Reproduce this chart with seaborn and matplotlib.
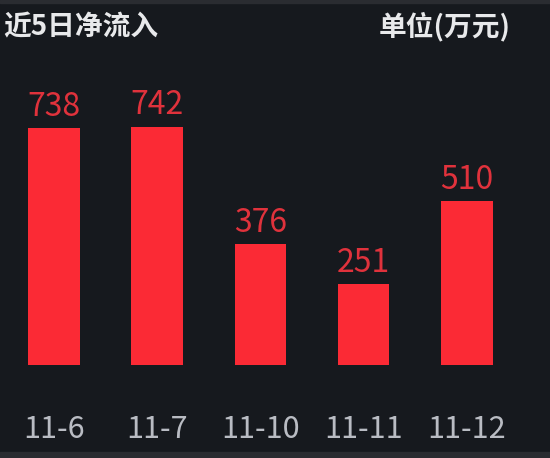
import matplotlib
matplotlib.use("Agg")
import matplotlib.pyplot as plt
import seaborn as sns
import pandas as pd
from matplotlib.patches import Rectangle

dates = ["11-6", "11-7", "11-10", "11-11", "11-12"]
values = [738, 742, 376, 251, 510]
title_left = "近5日净流入"
title_right = "单位(万元)"

BG = "#16191e"
BAR = "#fb2a35"
LABEL = "#e0323c"
TICK = "#b9bcc3"

sns.set_theme(style="dark")
plt.rcParams["font.family"] = ["Noto Sans CJK SC", "DejaVu Sans"]

df = pd.DataFrame({"date": dates, "value": values})

fig = plt.figure(figsize=(5.5, 4.58), dpi=100, facecolor=BG)
W, H = 550, 458
ax = fig.add_axes([2.4 / W, 1 - 365 / H, 516 / W, 305 / H])
ax.set_facecolor(BG)

sns.barplot(data=df, x="date", y="value", color=BAR, width=0.5, saturation=1,
            edgecolor="none", linewidth=0, ax=ax)
for cont in ax.containers:
    ax.bar_label(cont, padding=4, color=LABEL, fontsize=23)

ax.set_ylim(0, 950)
ax.set_xlim(-0.5, 4.5)
ax.set_xlabel("")
ax.set_ylabel("")
ax.set_yticks([])
ax.grid(False)
for s in ax.spines.values():
    s.set_visible(False)
ax.tick_params(axis="x", length=0, pad=35, labelsize=22, labelcolor=TICK)

fig.text(3 / W, 1 - 27 / H, title_left, color="#e8e9eb", fontsize=20,
         fontweight="bold", ha="left", va="center")
fig.text(511 / W, 1 - 27 / H, title_right, color="#e8e9eb", fontsize=20,
         fontweight="bold", ha="right", va="center")

fig.patches.append(Rectangle((0, 0), 1, 6 / H, transform=fig.transFigure,
                             color="#2a2c31", zorder=0))
fig.patches.append(Rectangle((0, 1 - 3 / H), 1, 3 / H, transform=fig.transFigure,
                             color="#2a2c31", zorder=0))

fig.savefig("out.png", dpi=100, facecolor=BG)
